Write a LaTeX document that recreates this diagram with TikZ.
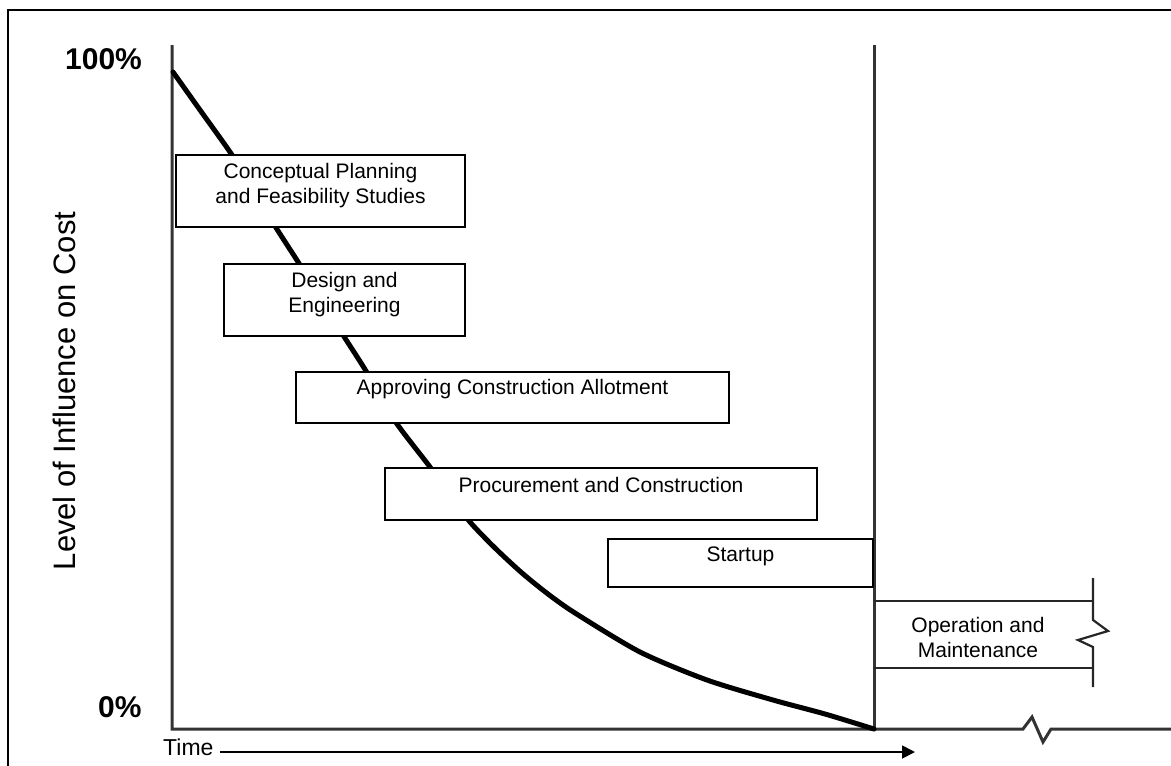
\documentclass[tikz,border=0pt]{standalone}
\usepackage{fontspec}
\setmainfont{Liberation Sans}
\usetikzlibrary{arrows.meta}
\begin{document}
\begin{tikzpicture}[x=1pt,y=-1pt,
  phase/.style={draw, line width=2pt, fill=white, inner sep=0pt, anchor=north west},
  lbl/.style={font=\fontsize{21}{25}\selectfont, align=center, inner sep=0pt, anchor=north},
  pct/.style={font=\fontsize{30}{36}\selectfont\bfseries, inner sep=0pt, anchor=base west},
  axisline/.style={line width=3pt, draw=black!80},
  thinline/.style={line width=2.2pt, draw=black!85},
]
\useasboundingbox (0,0) rectangle (1171,766);
\fill[white] (0,0) rectangle (1171,766);
% outer frame
\draw[line width=2.4pt] (8,766) -- (8,10) -- (1171,10);

% named reference points
\coordinate (ytop) at (172,45);
\coordinate (origin) at (172,729);
\coordinate (dtop) at (874,45);
\coordinate (dbot) at (874,729);
\coordinate (xend) at (1171,729);

% axes
\draw[axisline] (ytop) -- (origin) -- (1023,729) -- (1032,717) -- (1043,742) -- (1051,729) -- (xend);
\draw[axisline] (dtop) -- (dbot);

% labels
\node[pct] (p100) at (65,69) {100\%};
\node[pct] (p0) at (98,717) {0\%};
\node[font=\fontsize{31}{36}\selectfont, rotate=90, anchor=base, inner sep=0pt] (ylab) at (75,391) {Level of Influence on Cost};
\node[font=\fontsize{23}{27}\selectfont, anchor=base west, inner sep=0pt] (time) at (163,755) {Time};
\coordinate (tarr) at (915,752);
\draw[line width=1.8pt, -{Triangle[length=13pt,width=13pt]}] ([xshift=6pt]time.base east |- tarr) -- (tarr);

% curve
\draw[line width=5pt, line join=round, line cap=round] plot[smooth, tension=0.45] coordinates {
 (173,72) (200,110) (230,152) (253,188) (275,226) (300,265) (321,300) (343,335)
 (366,371) (395,421) (430,467) (448,493) (470,522) (495,548) (522,573) (548,594) (575,613)
 (640,652) (707,680) (773,700) (825,714) (874,729)};

% phase boxes
\node[phase, minimum width=289pt, minimum height=72pt] (b1) at (175,154) {};
\node[lbl] (t1) at ([yshift=-9pt]b1.north) {Conceptual Planning\\and Feasibility Studies};
\node[phase, minimum width=241pt, minimum height=72pt] (b2) at (223,263) {};
\node[lbl] (t2) at ([yshift=-9pt]b2.north) {Design and\\Engineering};
\node[phase, minimum width=433pt, minimum height=51pt] (b3) at (295,371) {};
\node[lbl] (t3) at ([yshift=-8pt]b3.north) {Approving Construction Allotment};
\node[phase, minimum width=432pt, minimum height=52pt] (b4) at (384,467) {};
\node[lbl] (t4) at ([yshift=-10pt]b4.north) {Procurement and Construction};
\node[phase, minimum width=265pt, minimum height=48pt] (b5) at (607,538) {};
\node[lbl] (t5) at ([yshift=-9pt]b5.north) {Startup};

% operation and maintenance
\coordinate (o1) at (874,601);
\coordinate (o2) at (874,668);
\draw[thinline] (o1) -- (1093,601);
\draw[thinline] (o2) -- (1093,668);
\draw[thinline] (1093,578) -- (1093,620) -- (1108,631) -- (1078,640) -- (1093,647) -- (1093,687);
\node[lbl] (t6) at (978,617) {Operation and\\Maintenance};
\end{tikzpicture}
\end{document}
